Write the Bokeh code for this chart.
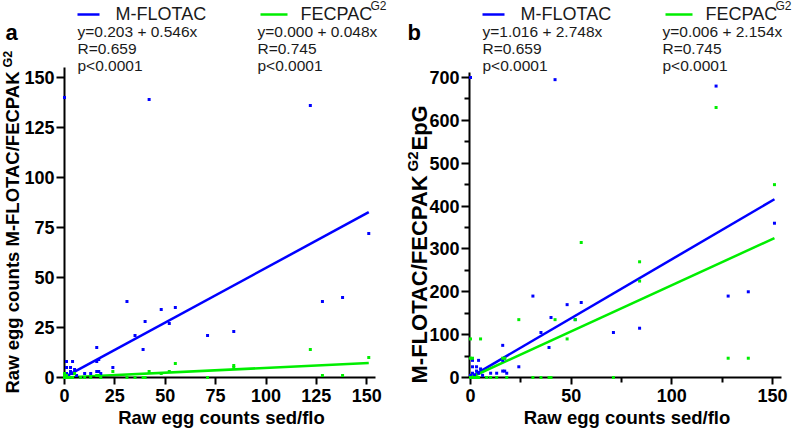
import math
from bokeh.plotting import figure
from bokeh.models import Label, FixedTicker, Range1d
from bokeh.layouts import row
from bokeh.embed import file_html
from bokeh.resources import INLINE

# ---------------- data ----------------
series_names = ["M-FLOTAC", "FECPAC"]
series_colors = ["#0000ff", "#00ee00"]

# M-FLOTAC observations: x = raw egg counts sed/flo
x_mflotac = [0, 42, 122, 151, 31, 48, 55, 40, 52, 35, 39, 71, 84, 128, 138, 16, 24,
             1, 4, 3, 1, 5, 3, 16, 17, 10, 13, 16, 17, 18, 1, 2, 0, 4, 6, 8, 0]
raw_mflotac = [140, 139, 136, 72, 38, 34, 35, 28, 27, 21, 14, 21, 23, 38, 40, 15, 5,
               8, 8, 5, 5, 4, 3, 8, 9, 2, 2, 3, 3, 2, 2, 1, 1, 2, 1, 0, 0]
epg_mflotac = [700, 695, 680, 360, 190, 170, 175, 140, 135, 105, 70, 105, 115, 190, 200, 75, 25,
               40, 40, 25, 25, 20, 15, 40, 45, 10, 10, 15, 15, 10, 10, 5, 5, 10, 5, 0, 0]

# FECPAK G2 observations
x_fecpak = [122, 151, 55, 84, 84, 128, 138, 24, 42, 52, 48, 0, 5, 0, 1, 16, 17,
            71, 31, 35, 39, 40, 0, 1, 2, 3, 4, 8, 10, 13, 18]
raw_fecpak = [14, 10, 7, 6, 5, 1, 1, 3, 3, 3, 2, 2, 2, 1, 1, 1, 1,
              0, 0, 0, 0, 0, 0, 0, 0, 0, 0, 0, 0, 0, 0]
epg_fecpak = [630, 450, 315, 270, 225, 45, 45, 135, 135, 135, 90, 90, 90, 45, 45, 45, 45,
              0, 0, 0, 0, 0, 0, 0, 0, 0, 0, 0, 0, 0, 0]

# regression results shown in the chart
intercepts_raw = [0.203, 0.000]
slopes_raw = [0.546, 0.048]
intercepts_epg = [1.016, 0.006]
slopes_epg = [2.748, 2.154]
r_values = [0.659, 0.745]
p_value_text = "p<0.0001"

ticks_a_x = [0, 25, 50, 75, 100, 125, 150]
ticks_a_y = [0, 25, 50, 75, 100, 125, 150]
ticks_b_x = [0, 50, 100, 150]
minor_b_x = [25, 75, 125]
ticks_b_y = [0, 100, 200, 300, 400, 500, 600, 700]
minor_b_y = [50, 150, 250, 350, 450, 550, 650]

FONT = "Liberation Sans"
H = 431
TXT = "#1a1a1a"
CORR = 7  # empirical baseline correction (px) for Label text


def make_panel(g, letter, xs_list, ys_list, inters, slopes, xticks, xminor, yticks, yminor,
               ylab_parts):
    W = g["width"]
    p = figure(width=W, height=H,
               x_range=Range1d(-g["ox"] / g["sx"], (W - g["ox"]) / g["sx"]),
               y_range=Range1d((g["oy"] - H) / g["sy"], g["oy"] / g["sy"]),
               min_border=0, min_border_left=0, min_border_right=0,
               min_border_top=0, min_border_bottom=0,
               output_backend="svg", toolbar_location=None)
    p.outline_line_color = None
    p.xgrid.visible = False
    p.ygrid.visible = False

    def dx(px):  # canvas px -> data x
        return (px - g["ox"]) / g["sx"]

    def dy(py):  # canvas px -> data y
        return (g["oy"] - py) / g["sy"]

    def text(px, py, s, size, bold=False, align="left", color=TXT, angle=0.0):
        if angle:
            ax_, ay_ = px - CORR, py
        else:
            ax_, ay_ = px, py - CORR
        p.add_layout(Label(x=dx(ax_), y=dy(ay_), text=s, angle=angle,
                           text_font=FONT, text_font_size=size,
                           text_font_style="bold" if bold else "normal",
                           text_color=color, text_baseline="alphabetic", text_align=align))

    for ax, ticks, minor, bounds, loc in ((p.xaxis, xticks, xminor, g["xb"], 0),
                                          (p.yaxis, yticks, yminor, g["yb"], g["yloc"])):
        ax.ticker = FixedTicker(ticks=ticks, minor_ticks=minor)
        ax.bounds = bounds
        ax.fixed_location = loc
        ax.axis_line_width = 2
        ax.axis_line_color = "black"
        ax.major_tick_line_width = 2
        ax.minor_tick_line_width = 2
        ax.major_tick_in = 0
        ax.minor_tick_in = 0
        ax.major_label_text_font = FONT
        ax.major_label_text_font_style = "bold"
        ax.major_label_text_font_size = "18px"
        ax.major_label_text_color = "black"
    p.yaxis.major_tick_out = 8
    p.yaxis.minor_tick_out = 5
    p.yaxis.major_label_standoff = 2
    p.xaxis.major_tick_out = 7
    p.xaxis.minor_tick_out = 5
    p.xaxis.major_label_standoff = 4

    # regression lines
    for xs, a, b, col in zip(xs_list, inters, slopes, series_colors):
        x_lo, x_hi = min(xs), max(xs)
        p.line([x_lo, x_hi], [a + b * x_lo, a + b * x_hi], line_color=col, line_width=2.5)
    # points (drawn above the axes, as in the reference)
    for xs, ys, col in zip(xs_list, ys_list, series_colors):
        r = p.scatter(xs, ys, marker="square", size=3, fill_color=col, line_color=None)
        r.level = "overlay"

    # header: legend swatches, names and statistics
    hx = g["hx"]
    sw = [(hx + 13, hx + 35), (hx + 196, hx + 223)]
    name_left = [hx + 51, hx + 236]
    stat_left = [hx + 13, hx + 193]
    for i in range(2):
        p.line([dx(sw[i][0]), dx(sw[i][1])], [dy(14), dy(14)],
               line_color=series_colors[i], line_width=2.5)
        text(name_left[i], 20, series_names[i], "18px")
        stats = [f"y={inters[i]:.3f} + {slopes[i]:.3f}x", f"R={r_values[i]:.3f}", p_value_text]
        for k, s in enumerate(stats):
            text(stat_left[i], 37.5 + 17 * k, s, "15.5px")
    text(hx + 306, 12, "G2", "12px")

    # panel letter
    text(g["letter_x"], 39, letter, "22px", bold=True, color="black")

    # x axis title
    text(g["xlab_cx"], 424, "Raw egg counts sed/flo", "18.5px", bold=True,
         align="center", color="black")

    # y axis title (rotated) with superscript
    for s, size, base_x, start_py in ylab_parts:
        text(base_x, start_py, s, size, bold=True, color="black", angle=math.pi / 2)
    return p


geom_a = dict(width=400, ox=64, sx=2.015, oy=377, sy=2.0, xb=(0, 154.5), yb=(0, 155), yloc=0,
              hx=64, letter_x=5, xlab_cx=221)
geom_b = dict(width=397, ox=70, sx=2.013, oy=377, sy=300 / 700, xb=(-0.5, 154.5), yb=(0, 712),
              yloc=-0.5, hx=69, letter_x=7, xlab_cx=226.5)

ylab_a = [("Raw egg counts M-FLOTAC/FECPAK", "18.5px", 19, 393),
          ("G2", "12.5px", 14, 67)]
ylab_b = [("M-FLOTAC/FECPAK", "22px", 26, 383),
          ("G2", "15px", 18.5, 171),
          (" EpG", "22px", 26, 150)]

pa = make_panel(geom_a, "a", [x_mflotac, x_fecpak], [raw_mflotac, raw_fecpak],
                intercepts_raw, slopes_raw, ticks_a_x, [], ticks_a_y, [], ylab_a)
pb = make_panel(geom_b, "b", [x_mflotac, x_fecpak], [epg_mflotac, epg_fecpak],
                intercepts_epg, slopes_epg, ticks_b_x, minor_b_x, ticks_b_y, minor_b_y, ylab_b)

layout = row(pa, pb)
open("out.html", "w").write(file_html(layout, INLINE))
